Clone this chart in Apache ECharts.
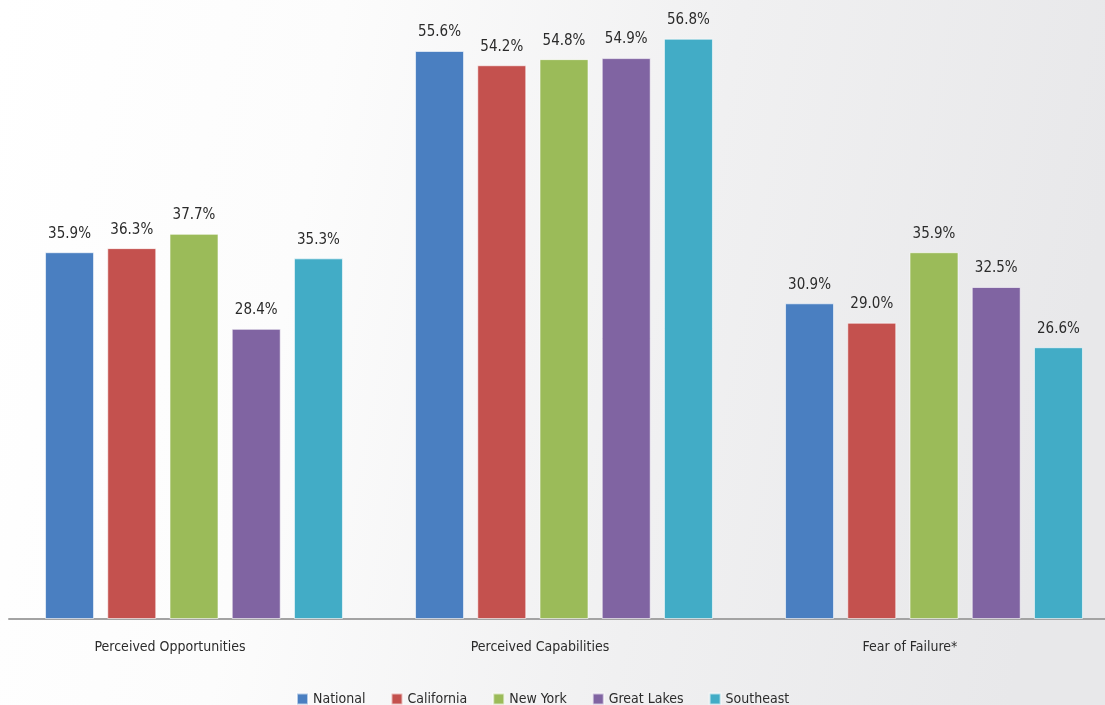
<!DOCTYPE html>
<html>
<head>
<meta charset="utf-8">
<script src="https://cdn.jsdelivr.net/npm/echarts@6/dist/echarts.min.js"></script>
<style>
  html, body { margin: 0; padding: 0; }
  #chart { width: 1105px; height: 705px; }
</style>
</head>
<body>
<div id="chart"></div>
<script>
// categories and series
const categories = ['Perceived Opportunities', 'Perceived Capabilities', 'Fear of Failure*'];
const regions = ['National', 'California', 'New York', 'Great Lakes', 'Southeast'];
const national = [35.9, 55.6, 30.9];
const california = [36.3, 54.2, 29.0];
const newYork = [37.7, 54.8, 35.9];
const greatLakes = [28.4, 54.9, 32.5];
const southeast = [35.3, 56.8, 26.6];
const colors = ['#4a7fc1', '#c4514e', '#9bbb59', '#8064a2', '#42acc6'];

const font = '"DejaVu Sans Condensed", "Roboto", sans-serif';
const values = [national, california, newYork, greatLakes, southeast];

const chart = echarts.init(document.getElementById('chart'));

// one bar series per region
const series = regions.map((name, i) => ({
  name: name,
  type: 'bar',
  data: values[i],
  barWidth: 49,
  barGap: '27%',
  itemStyle: {
    color: colors[i],
    borderColor: 'rgba(255,255,255,0.6)',
    borderWidth: 1
  },
  label: {
    show: true,
    position: 'top',
    distance: 11,
    fontFamily: font,
    fontSize: 15,
    color: '#2b2b2b',
    formatter: p => p.value.toFixed(1) + '%'
  }
}));

chart.setOption({
  backgroundColor: {
    type: 'linear', x: 0, y: 0, x2: 1, y2: 0.3,
    colorStops: [
      { offset: 0, color: '#ffffff' },
      { offset: 0.3, color: '#fcfcfc' },
      { offset: 0.65, color: '#f0f0f1' },
      { offset: 1, color: '#e8e8ea' }
    ]
  },
  animation: false,
  color: colors,
  grid: { left: 9, top: 6, width: 1110, bottom: 86, outerBoundsMode: 'none', containLabel: false },
  legend: {
    top: 687,
    left: 291,
    icon: 'rect',
    itemWidth: 11,
    itemHeight: 11,
    itemGap: 25,
    textStyle: { fontFamily: font, fontSize: 14, color: '#2b2b2b' },
    data: regions
  },
  xAxis: {
    type: 'category',
    data: categories,
    axisLine: { lineStyle: { color: '#a3a3a3', width: 2 } },
    axisTick: { show: false },
    axisLabel: {
      fontFamily: font, fontSize: 14, color: '#2b2b2b', margin: 21,
      padding: [0, 48, 0, 0]
    }
  },
  yAxis: {
    type: 'value',
    min: 0,
    max: 60,
    show: false,
    splitLine: { show: false }
  },
  series: series
});
</script>
</body>
</html>
